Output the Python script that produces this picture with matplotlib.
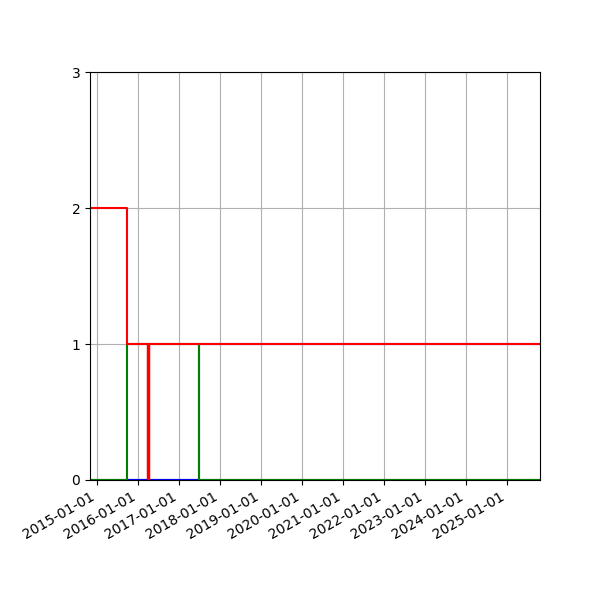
import matplotlib
matplotlib.use("Agg")
import matplotlib.pyplot as plt
import matplotlib.dates as mdates
import pandas as pd

start = "2014-11-01"
end = "2025-10-22"

black_dates = [start, end]
black_vals = [0, 0]

blue_dates = ["2015-09-24", "2017-07-01", end]
blue_vals = [0, 1, 1]

green_dates = [start, "2015-09-24", "2017-07-01", end]
green_vals = [0, 1, 0, 0]

red2_dates = ["2016-03-28", "2016-03-28"]
red2_vals = [0, 1]

red_dates = [start, start, "2015-09-24", end]
red_vals = [1, 2, 1, 1]

yticks = [0, 1, 2, 3]

fig, ax = plt.subplots(figsize=(6, 6), dpi=100)
fig.subplots_adjust(left=0.15, right=0.9, bottom=0.2, top=0.88)

def d(lst):
    return pd.to_datetime(lst)

ax.plot(d(black_dates), black_vals, color="black", lw=1.5, drawstyle="steps-post")
ax.plot(d(blue_dates), blue_vals, color="blue", lw=1.5, drawstyle="steps-post")
ax.plot(d(green_dates), green_vals, color="green", lw=1.5, drawstyle="steps-post")
ax.plot(d(red2_dates), red2_vals, color="red", lw=2.5, solid_capstyle="butt")
ax.plot(d(red_dates), red_vals, color="red", lw=1.5, drawstyle="steps-post")

ax.set_xlim(pd.Timestamp(start), pd.Timestamp(end))
ax.set_ylim(0, 3)
ax.set_yticks(yticks)
ax.xaxis.set_major_locator(mdates.YearLocator())
ax.xaxis.set_major_formatter(mdates.DateFormatter("%Y-%m-%d"))
ax.grid(True)
for lbl in ax.get_xticklabels():
    lbl.set_rotation(30)
    lbl.set_ha("right")

fig.savefig("out.png")
